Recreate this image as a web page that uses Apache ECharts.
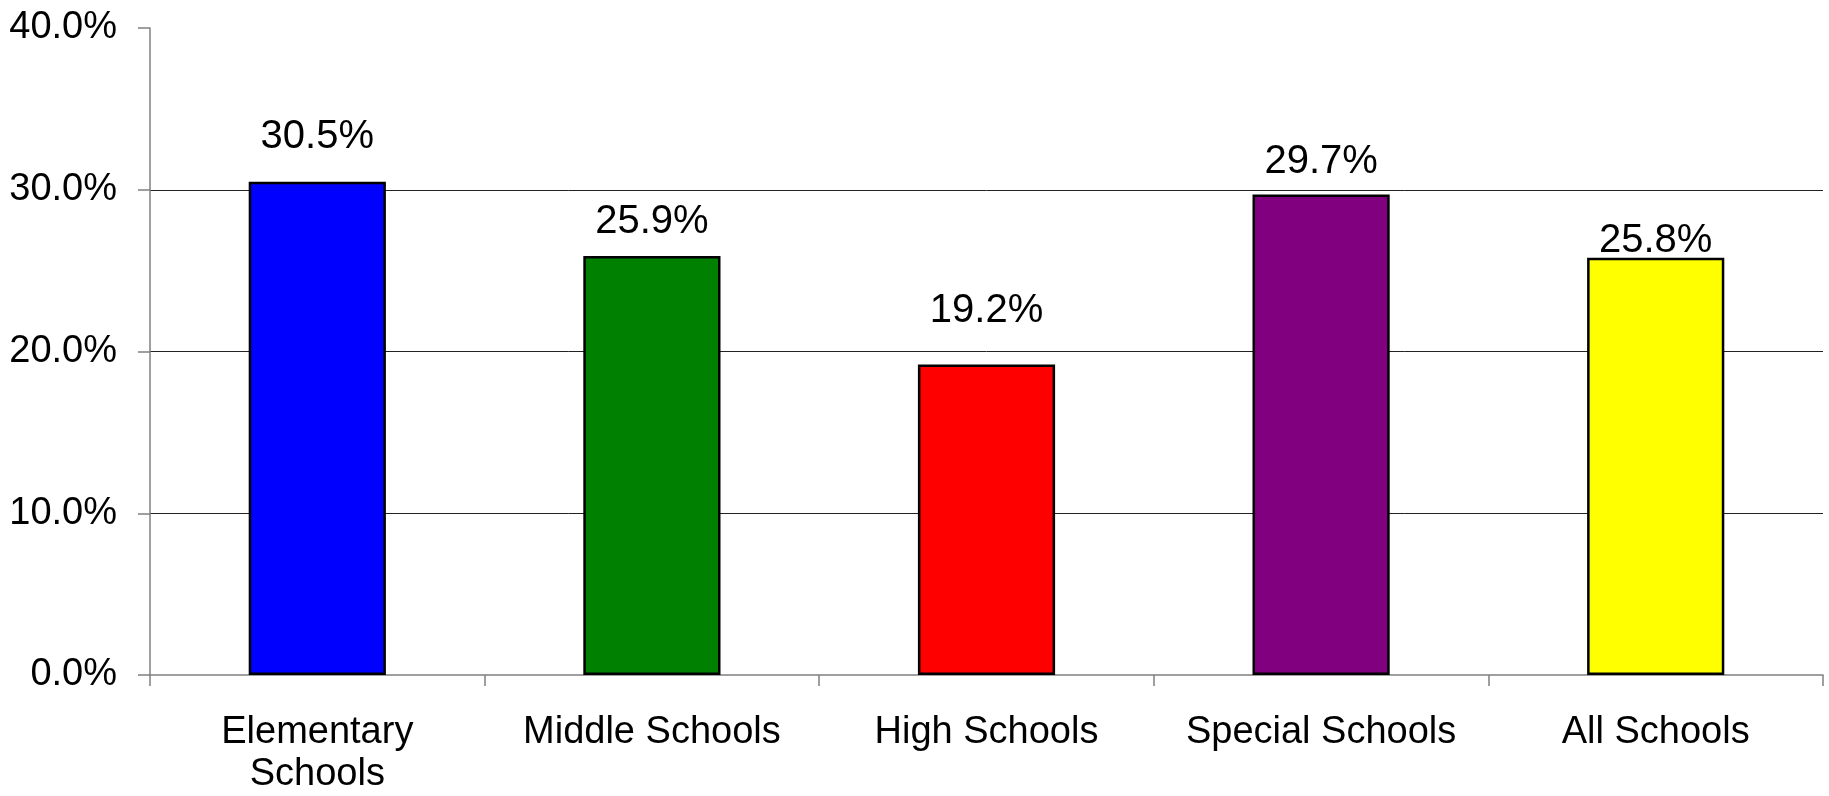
<!DOCTYPE html>
<html>
<head>
<meta charset="utf-8">
<script src="https://cdn.jsdelivr.net/npm/echarts@6/dist/echarts.min.js"></script>
<style>
  html, body { margin: 0; padding: 0; background: #fff; }
  #chart { width: 1829px; height: 796px; }
</style>
</head>
<body>
<div id="chart"></div>
<script>
// school types and their share
var categories = ['Elementary\nSchools', 'Middle Schools', 'High Schools', 'Special Schools', 'All Schools']
var values = [30.5, 25.9, 19.2, 29.7, 25.8]
var yTicks = [0, 10, 20, 30, 40]

var barColors = ['#0000ff', '#008000', '#ff0000', '#800080', '#ffff00']
// label gap above each bar (the original labels sit unevenly)
var labelGap = [25, 14, 33, 13, -3]

var font = '"Liberation Sans", Arial, sans-serif'

var chart = echarts.init(document.getElementById('chart'))

var barData = values.map(function (v, i) {
  return {
    value: v,
    itemStyle: { color: barColors[i] },
    label: { distance: labelGap[i] }
  }
})

chart.setOption({
  animation: false,
  grid: {
    left: 150,
    right: 6,
    top: 28,
    bottom: 119,
    containLabel: false
  },
  xAxis: {
    type: 'category',
    data: categories,
    axisLine: { lineStyle: { color: '#808080', width: 1.5 } },
    axisTick: {
      show: true,
      length: 11,
      lineStyle: { color: '#808080', width: 1.5 }
    },
    axisLabel: {
      interval: 0,
      margin: 37,
      fontSize: 38,
      lineHeight: 42,
      fontFamily: font,
      color: '#000'
    },
    splitLine: { show: false }
  },
  yAxis: {
    type: 'value',
    min: yTicks[0],
    max: yTicks[yTicks.length - 1],
    interval: 10,
    axisLine: { show: true, lineStyle: { color: '#808080', width: 1.5 } },
    axisTick: {
      show: true,
      length: 12,
      lineStyle: { color: '#808080', width: 1.5 }
    },
    axisLabel: {
      margin: 33,
      fontSize: 38,
      fontFamily: font,
      color: '#000',
      formatter: function (v) { return v.toFixed(1) + '%' }
    },
    splitLine: {
      show: true,
      showMinLine: false,
      showMaxLine: false,
      lineStyle: { color: '#222', width: 1 }
    }
  },
  series: [
    {
      type: 'bar',
      data: barData,
      barWidth: '41%',
      itemStyle: { borderColor: '#000', borderWidth: 2.5 },
      label: {
        show: true,
        position: 'top',
        fontSize: 40,
        fontFamily: font,
        color: '#000',
        formatter: function (p) { return p.value.toFixed(1) + '%' }
      }
    }
  ]
})
</script>
</body>
</html>
